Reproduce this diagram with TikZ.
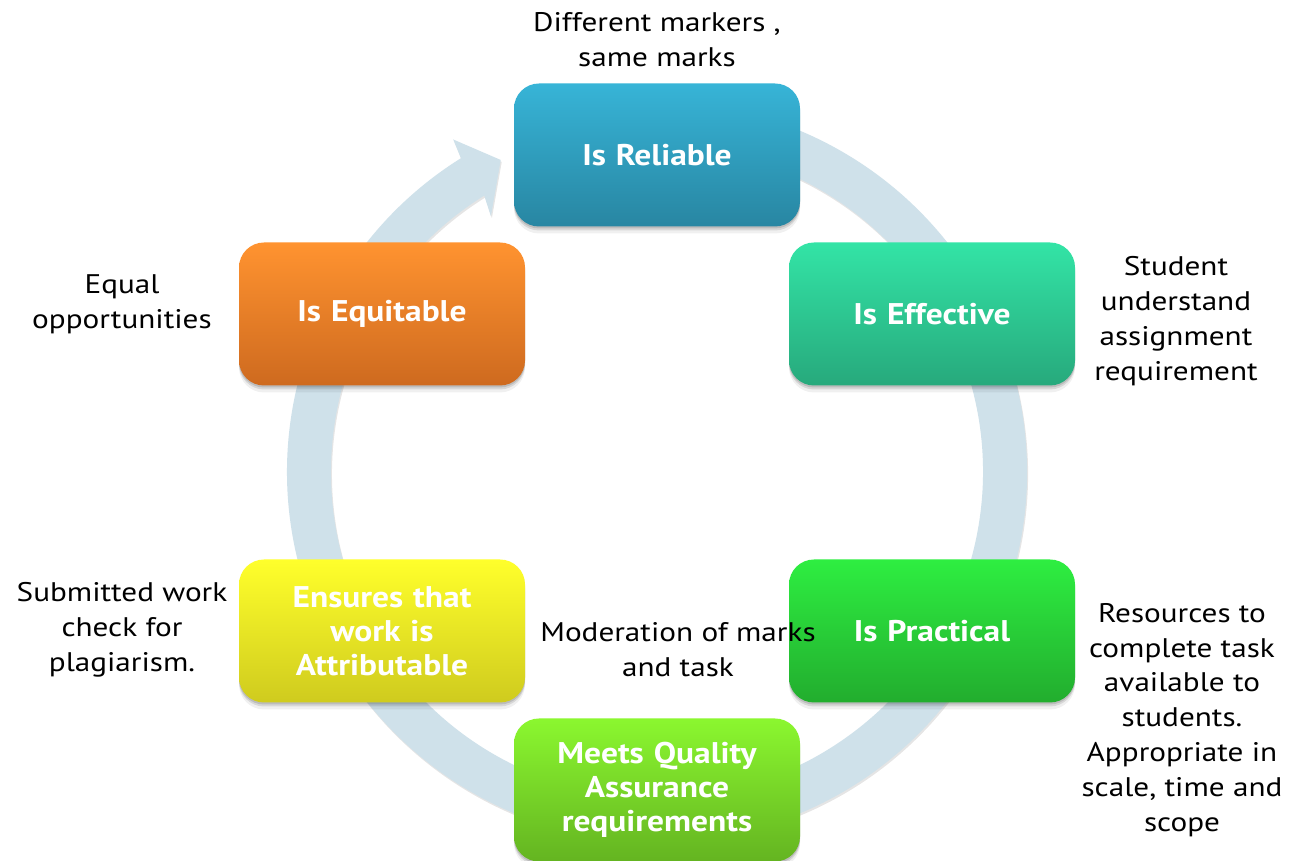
\documentclass[tikz,border=0pt]{standalone}
\usepackage{fontspec}
\setmainfont{PT Sans}[FakeStretch=1.16]
\newfontfamily\cardfont{PT Sans}[FakeStretch=1.12]
\usetikzlibrary{shadows}

\definecolor{ringcol}{HTML}{CFE1EA}
\definecolor{relTop}{HTML}{37B4D7}\definecolor{relBot}{HTML}{2886A2}
\definecolor{effTop}{HTML}{33E4A6}\definecolor{effBot}{HTML}{27A97C}
\definecolor{praTop}{HTML}{2EEE41}\definecolor{praBot}{HTML}{22AD2E}
\definecolor{qaTop}{HTML}{8BF72F}\definecolor{qaBot}{HTML}{64B421}
\definecolor{attTop}{HTML}{FFFF2B}\definecolor{attBot}{HTML}{CFCB1E}
\definecolor{equTop}{HTML}{FF9330}\definecolor{equBot}{HTML}{CE6A1F}

\begin{document}
\begin{tikzpicture}[x=1bp,y=1bp,
  softshadow/.style={
    drop shadow={shadow xshift=0pt, shadow yshift=-7pt, opacity=0.06, fill=black},
    drop shadow={shadow xshift=0pt, shadow yshift=-4pt, opacity=0.10, fill=black},
    drop shadow={shadow xshift=0pt, shadow yshift=-2pt, opacity=0.12, fill=black}},
  ringshadow/.style={
    drop shadow={shadow xshift=1pt, shadow yshift=-2pt, opacity=0.10, fill=black}},
  card/.style={rounded corners=25bp, minimum width=286bp, minimum height=143bp,
    inner sep=0pt, text width=276bp, align=center, text=white,
    font=\cardfont\fontsize{30}{34}\selectfont\bfseries, softshadow,
    top color=#1Top, bottom color=#1Bot},
  note/.style={align=center, inner sep=0pt, text=black,
    font=\fontsize{27}{35}\selectfont}
]
% canvas
\fill[white] (0,0) rectangle (1293,861);
\useasboundingbox (0,0) rectangle (1293,861);

% circular arrow running clockwise behind the cards
\begin{scope}[shift={(657,389)}]
  \fill[ringcol, ringshadow]
    (105:370) arc[start angle=105, end angle=-238, radius=370]
    -- (-238.5:390) -- (-243.4:349) -- (-237:305)
    -- (-238:326) arc[start angle=-238, end angle=105, radius=326] -- cycle;
\end{scope}

% cards
\node[card=rel] (reliable)   at (657,706) {Is Reliable};
\node[card=eff] (effective)  at (932,547) {Is Effective};
\node[card=pra] (practical)  at (932,230) {Is Practical};
\node[card=qa]  (quality)    at (657,71)  {Meets Quality\\Assurance\\requirements};
\node[card=att] (attrib)     at (382,230) {Ensures that\\work is\\Attributable};
\node[card=equ] (equitable)  at (382,547) {Is Equitable};

% explanatory notes
\node[note] (nrel) at (657,821) {Different markers ,\\same marks};
\node[note] (nequ) at (122,557) {Equal\\opportunities};
\node[note] (neff) at (1176,540) {Student\\understand\\assignment\\requirement};
\node[note] (natt) at (122,231) {Submitted work\\check for\\plagiarism.};
\node[note] (nqa)  at (678,211) {Moderation of marks\\and task};
\node[note] (npra) at (1182,141) {Resources to\\complete task\\available to\\students.\\Appropriate in\\scale, time and\\scope};
\end{tikzpicture}
\end{document}
